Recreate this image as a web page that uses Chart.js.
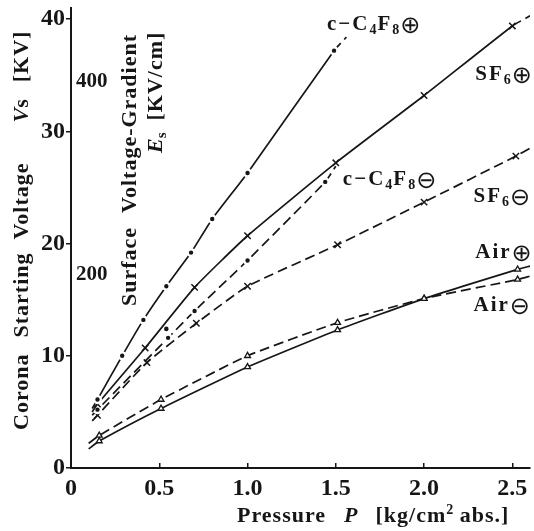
<!DOCTYPE html>
<html>
<head>
<meta charset="utf-8">
<script src="https://cdn.jsdelivr.net/npm/chart.js@4.4.1/dist/chart.umd.min.js"></script>
<style>
  html, body { margin: 0; padding: 0; background: #fff; }
  #wrap { width: 534px; height: 531px; position: relative; }
</style>
</head>
<body>
<div id="wrap"><canvas id="corona"></canvas></div>
<script>
// pressure P [kg/cm2 abs.] and corona starting voltage Vs [kV] of each gas
const c4f8PosP = [0.15, 0.29, 0.41, 0.54, 0.68, 0.80, 1.0, 1.49];
const c4f8PosV = [6.1, 10.0, 13.2, 16.2, 19.2, 22.2, 26.3, 37.2];
const sf6PosP = [0.15, 0.42, 0.70, 1.0, 1.5, 2.0, 2.5];
const sf6PosV = [5.7, 10.7, 16.1, 20.7, 27.2, 33.2, 39.4];
const c4f8NegP = [0.15, 0.55, 0.70, 1.0, 1.44];
const c4f8NegV = [5.2, 11.6, 14.0, 18.5, 25.5];
const c4f8NegExtraP = [0.54];
const c4f8NegExtraV = [12.4];
const sf6NegP = [0.15, 0.43, 0.71, 1.0, 1.51, 2.0, 2.52];
const sf6NegV = [4.7, 9.4, 12.9, 16.2, 19.9, 23.7, 27.8];
const airPosP = [0.16, 0.51, 1.0, 1.51, 2.0, 2.53];
const airPosV = [2.4, 5.3, 9.0, 12.3, 15.1, 17.7];
const airNegP = [0.16, 0.51, 1.0, 1.51, 2.0, 2.53];
const airNegV = [2.9, 6.1, 10.0, 12.95, 15.1, 16.8];

// start and end of each drawn curve outside the measured points [P, Vs]
const c4f8PosEnds = [[0.12, 5.3], [1.56, 38.4]];
const sf6PosEnds = [[0.12, 5.0], [2.6, 40.3]];
const c4f8NegEnds = [[0.12, 4.7], [1.5, 26.9]];
const sf6NegEnds = [[0.12, 4.2], [2.6, 28.5]];
const airPosEnds = [[0.10, 1.7], [2.6, 18.0]];
const airNegEnds = [[0.10, 2.2], [2.6, 17.1]];

// axis ticks
const pressureTicks = [0, 0.5, 1.0, 1.5, 2.0, 2.5];
const voltageTicks = [0, 10, 20, 30, 40];
const gradientTicks = [200, 400];
const P_MAX = 2.6;
const VS_MAX = 41;
const ES_PER_KV = 11.6;   // surface gradient [kV/cm] per kV of Vs

const INK = '#161616';
const SERIF = '"Liberation Serif", "DejaVu Serif", serif';
const bold = s => `bold ${s}px ${SERIF}`;
const ital = s => `italic bold ${s}px ${SERIF}`;
const SYM = '24px "DejaVu Sans"';

const DOT = { marker: 'circle', r: 3.4, fill: INK, edge: '#fff', edgeW: 2.4 };
const CROSS = { marker: 'crossRot', r: 4.5, fill: INK, edge: INK, edgeW: 1.5 };
const TRI = { marker: 'triangle', r: 3.4, fill: '#fff', edge: INK, edgeW: 1.3 };
const DASH = [10, 5];

function series(label, ps, vs, ends, mark, dash, tailDash) {
    const data = [{ x: ends[0][0], y: ends[0][1], end: true }];
    ps.forEach((p, i) => data.push({ x: p, y: vs[i] }));
    data.push({ x: ends[1][0], y: ends[1][1], end: true });
    const last = data.length - 1;
    return {
        label, data,
        borderColor: INK,
        borderWidth: 1.7,
        tension: 0.15,
        borderDash: dash,
        segment: {
            borderDash: c => (c.p1DataIndex === last && tailDash) ? tailDash : dash
        },
        pointStyle: mark.marker,
        pointRadius: c => (c.raw && c.raw.end) ? 0 : mark.r,
        pointBackgroundColor: mark.fill,
        pointBorderColor: mark.edge,
        pointBorderWidth: mark.edgeW
    };
}

const datasets = [
    series('c-C4F8 +', c4f8PosP, c4f8PosV, c4f8PosEnds, DOT, [], DASH),
    series('SF6 +', sf6PosP, sf6PosV, sf6PosEnds, CROSS, [], DASH),
    series('c-C4F8 -', c4f8NegP, c4f8NegV, c4f8NegEnds, DOT, DASH),
    {
        label: 'c-C4F8 - (repeat)',
        data: c4f8NegExtraP.map((p, i) => ({ x: p, y: c4f8NegExtraV[i] })),
        showLine: false,
        pointStyle: 'circle',
        pointRadius: 2.3,
        pointBackgroundColor: INK,
        pointBorderWidth: 0
    },
    series('SF6 -', sf6NegP, sf6NegV, sf6NegEnds, CROSS, DASH),
    series('Air +', airPosP, airPosV, airPosEnds, TRI, []),
    series('Air -', airNegP, airNegV, airNegEnds, TRI, DASH)
];

// text made of runs with their own fonts (subscripts, italics, circled signs)
function drawRuns(ctx, runs, x, y, upright) {
    ctx.save();
    ctx.translate(x, y);
    if (upright) ctx.rotate(-Math.PI / 2);
    ctx.fillStyle = INK;
    ctx.textAlign = 'left';
    ctx.textBaseline = 'alphabetic';
    let cx = 0;
    for (const r of runs) {
        if (r.gap) { cx += r.gap; continue; }
        ctx.font = r.font;
        ctx.letterSpacing = r.ls || '0px';
        ctx.fillText(r.t, cx, r.dy || 0);
        cx += ctx.measureText(r.t).width;
    }
    ctx.restore();
}

const tx = t => ({ t, font: bold(21), ls: '2px' });
const sub = t => ({ t, font: bold(14), dy: 4, ls: '1px' });
const sign = s => ({ t: s, font: SYM, dy: 3 });
const word = t => ({ t, font: bold(22), ls: '1px' });

const gasLabels = [
    { p: 1.45, v: 39.0, runs: [tx('c−C'), sub('4'), tx('F'), sub('8'), sign('⊕')] },
    { p: 2.29, v: 34.6, runs: [tx('SF'), sub('6'), sign('⊕')] },
    { p: 1.54, v: 25.2, runs: [tx('c−C'), sub('4'), tx('F'), sub('8'), sign('⊖')] },
    { p: 2.28, v: 23.7, runs: [tx('SF'), sub('6'), sign('⊖')] },
    { p: 2.29, v: 18.75, runs: [tx('Air'), sign('⊕')] },
    { p: 2.28, v: 14.0, runs: [tx('Air'), sign('⊖')] }
];

const notes = {
    id: 'notes',
    afterDraw(chart) {
        const { ctx, scales: { x, y } } = chart;
        gasLabels.forEach(l => drawRuns(ctx, l.runs, x.getPixelForValue(l.p), y.getPixelForValue(l.v)));

        // Vs title, read upwards
        drawRuns(ctx, [word('Corona'), { gap: 16 }, word('Starting'), { gap: 13 }, word('Voltage'), { gap: 40 },
            { t: 'V', font: ital(22) }, word('s'), { gap: 16 }, word('[KV]')], 28, 430, true);

        // Es title inside the plot
        drawRuns(ctx, [word('Surface'), { gap: 14 }, word('Voltage-Gradient')], 136, 306, true);
        drawRuns(ctx, [{ t: 'E', font: ital(22) }, { t: 's', font: bold(15), dy: 4 }, { gap: 12 }, word('[KV/cm]')], 162, 153, true);

        // pressure title
        drawRuns(ctx, [word('Pressure'), { gap: 18 }, { t: 'P', font: ital(22) }, { gap: 18 },
            word('[kg/cm'), { t: '2', font: bold(14), dy: -8 }, word(' abs.]')], 237, 522);
    }
};

const tickFont = { family: SERIF, size: 24, weight: 'bold' };
const setTicks = list => scale => { scale.ticks = list.map(v => ({ value: v })); };

new Chart(document.getElementById('corona'), {
    type: 'line',
    data: { datasets },
    options: {
        responsive: true,
        maintainAspectRatio: false,
        animation: false,
        layout: { padding: { top: 8, right: 0, left: 0, bottom: 0 } },
        plugins: { legend: { display: false }, tooltip: { enabled: false } },
        scales: {
            x: {
                type: 'linear',
                min: 0,
                max: P_MAX,
                afterBuildTicks: setTicks(pressureTicks),
                afterFit: s => { s.height = 63; s.paddingLeft = 0; s.paddingRight = 0; },
                border: { color: INK, width: 2 },
                grid: { drawOnChartArea: false, color: INK, lineWidth: 1.5, tickLength: -5 },
                ticks: {
                    font: tickFont, color: INK, padding: 11, maxRotation: 0,
                    callback: v => v === 0 ? '0' : v.toFixed(1)
                }
            },
            y: {
                type: 'linear',
                position: 'left',
                weight: 1,
                min: 0,
                max: VS_MAX,
                afterBuildTicks: setTicks(voltageTicks),
                afterFit: s => { s.width = 71; s.paddingTop = 0; s.paddingBottom = 0; },
                border: { color: INK, width: 2 },
                grid: { drawOnChartArea: false, color: INK, lineWidth: 1.5, tickLength: 5 },
                ticks: { font: tickFont, color: INK, padding: 1 }
            },
            es: {
                type: 'linear',
                position: 'left',
                weight: 0,
                min: 0,
                max: VS_MAX * ES_PER_KV,
                afterBuildTicks: setTicks(gradientTicks),
                afterFit: s => { s.width = 0; s.paddingTop = 0; s.paddingBottom = 0; },
                border: { display: false },
                grid: { display: false },
                ticks: { mirror: true, padding: 5, font: { family: SERIF, size: 21, weight: 'bold' }, color: INK }
            }
        }
    },
    plugins: [notes]
});
</script>
</body>
</html>
